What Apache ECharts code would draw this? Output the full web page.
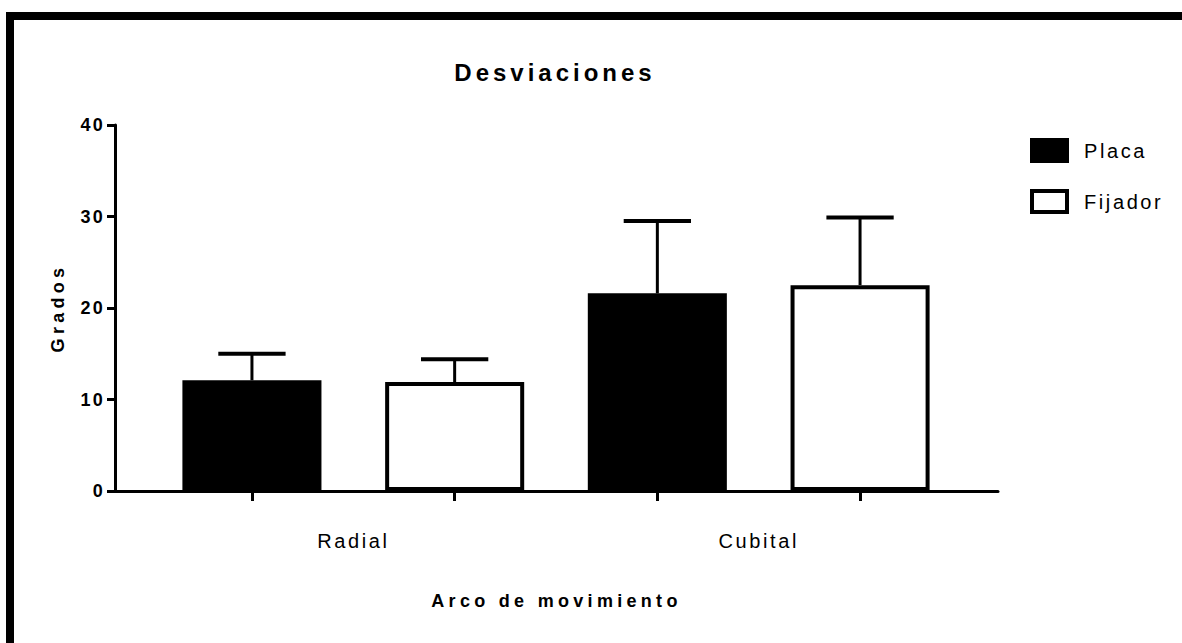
<!DOCTYPE html>
<html>
<head>
<meta charset="utf-8">
<title>Desviaciones</title>
<script src="https://cdn.jsdelivr.net/npm/echarts@6/dist/echarts.min.js"></script>
<style>
  html, body { margin: 0; padding: 0; background: #fff; overflow: hidden; }
  #chart { position: absolute; left: 0; top: 0; width: 1182px; height: 643px; }
  /* spaced-out lettering used by the whole figure */
  #chart svg text { letter-spacing: 3px; }
  /* black frame along the top and left edges of the figure */
  #frame {
    position: absolute; left: 6px; top: 12px; width: 1300px; height: 700px;
    border-top: 8px solid #000; border-left: 8px solid #000;
    pointer-events: none;
  }
</style>
</head>
<body>
<div id="chart"></div>
<div id="frame"></div>
<script>
// Range of motion deviations (degrees): mean and SD per group
const categories = ['Radial', 'Cubital'];
const seriesNames = ['Placa', 'Fijador'];
const placaMean = [12.1, 21.6];
const placaSD = [2.9, 7.9];
const fijadorMean = [11.9, 22.5];
const fijadorSD = [2.5, 7.4];
const yTicks = [0, 10, 20, 30, 40];

const FONT = 'Liberation Sans, Arial, Helvetica, sans-serif';

// one tick per bar: category x group
const barSlots = [];
categories.forEach(c => seriesNames.forEach(s => barSlots.push(c + ' ' + s)));

// error-bar records: [category index, mean, sd, series index]
const errData = [];
categories.forEach((c, i) => {
  errData.push([i, placaMean[i], placaSD[i], 0]);
  errData.push([i, fijadorMean[i], fijadorSD[i], 1]);
});

const chart = echarts.init(document.getElementById('chart'), null, { renderer: 'svg' });

const yMin = yTicks[0], yMax = yTicks[yTicks.length - 1];
const yStep = yTicks[1] - yTicks[0];

// letter spacing by text kind: wider for the title and bold axis names
function spaceLetters() {
  document.querySelectorAll('#chart svg text').forEach(t => {
    const cs = getComputedStyle(t);
    const size = parseFloat(cs.fontSize);
    const bold = cs.fontWeight === 'bold' || parseInt(cs.fontWeight, 10) >= 600;
    const numeric = /^\s*\d+\s*$/.test(t.textContent);
    let ls;
    if (numeric) ls = 2.2;
    else if (size >= 23) ls = 4;
    else if (bold) ls = 4.3;
    else ls = 2.6;
    t.style.letterSpacing = ls + 'px';
  });
}

chart.setOption({
  animation: false,
  backgroundColor: '#fff',
  title: {
    text: 'Desviaciones',
    left: 550,
    textAlign: 'center',
    top: 55,
    textStyle: { fontFamily: FONT, fontWeight: 'bold', fontSize: 24, color: '#000' }
  },
  legend: {
    data: [
      { name: 'Placa' },
      { name: 'Fijador' }
    ],
    orient: 'vertical',
    left: 1030,
    top: 138,
    padding: 0,
    itemWidth: 35,
    itemHeight: 21,
    itemGap: 26,
    icon: 'rect',
    itemStyle: { borderColor: '#000', borderWidth: 4 },
    textStyle: { fontFamily: FONT, fontSize: 20, color: '#000', padding: [0, 0, 0, 12] }
  },
  grid: [
    // frame grid: carries the visible axis lines
    { left: 115, right: 184, top: 125, bottom: 152 },
    // bar grid: where groups are laid out
    { left: 150.6, right: 220.6, top: 125, bottom: 152 }
  ],
  xAxis: [
    {
      gridIndex: 0, type: 'value', min: 0, max: 1, position: 'bottom',
      name: 'Arco de movimiento', nameLocation: 'middle', nameGap: 101,
      nameTextStyle: { fontFamily: FONT, fontWeight: 'bold', fontSize: 18, color: '#000' },
      axisLine: { show: true, lineStyle: { color: '#000', width: 3 } },
      axisTick: { show: false }, axisLabel: { show: false }, splitLine: { show: false }
    },
    {
      gridIndex: 1, type: 'category', data: categories, position: 'bottom',
      axisLine: { show: false }, axisTick: { show: false }, splitLine: { show: false },
      axisLabel: { margin: 40, fontFamily: FONT, fontSize: 20, color: '#000' }
    },
    {
      gridIndex: 1, type: 'category', data: barSlots, position: 'bottom',
      axisLine: { show: false }, splitLine: { show: false },
      axisTick: { show: true, alignWithLabel: true, length: 10, lineStyle: { color: '#000', width: 3 } },
      axisLabel: { show: false }
    }
  ],
  yAxis: [
    {
      gridIndex: 0, type: 'value', min: yMin, max: yMax, interval: yStep,
      name: 'Grados', nameLocation: 'middle', nameGap: 48,
      nameTextStyle: { fontFamily: FONT, fontWeight: 'bold', fontSize: 18, color: '#000' },
      axisLine: { show: true, lineStyle: { color: '#000', width: 3 } },
      axisTick: { show: true, length: 8, lineStyle: { color: '#000', width: 3 } },
      axisLabel: { margin: 10, fontFamily: FONT, fontWeight: 'bold', fontSize: 18, color: '#000' },
      splitLine: { show: false }
    },
    {
      gridIndex: 1, type: 'value', min: yMin, max: yMax, interval: yStep, show: false,
      splitLine: { show: false }
    }
  ],
  series: [
    {
      name: 'Placa', type: 'bar', xAxisIndex: 1, yAxisIndex: 1,
      data: placaMean, barWidth: '34.3%', barGap: '45.8%', z: 3,
      itemStyle: { color: '#000', borderColor: '#000', borderWidth: 0 }
    },
    {
      name: 'Fijador', type: 'bar', xAxisIndex: 1, yAxisIndex: 1,
      data: fijadorMean, barWidth: '34.3%', barGap: '45.8%', z: 3,
      itemStyle: { color: '#fff', borderColor: '#000', borderWidth: 4 }
    },
    {
      name: 'SD', type: 'custom', xAxisIndex: 1, yAxisIndex: 1, z: 2,
      data: errData, silent: true,
      renderItem: function (params, api) {
        const band = api.size([1, 0])[0];
        const center = api.coord([api.value(0), 0])[0];
        const cx = center + (api.value(3) === 0 ? -band / 4 : band / 4);
        const yBase = api.coord([api.value(0), api.value(1)])[1];
        const yTop = api.coord([api.value(0), api.value(1) + api.value(2)])[1];
        const half = band * 0.083;
        return {
          type: 'group',
          children: [
            { type: 'line', shape: { x1: cx, y1: yBase, x2: cx, y2: yTop },
              style: { stroke: '#000', lineWidth: 3 } },
            { type: 'line', shape: { x1: cx - half, y1: yTop, x2: cx + half, y2: yTop },
              style: { stroke: '#000', lineWidth: 4 } }
          ]
        };
      }
    }
  ]
});
spaceLetters();
chart.on('finished', spaceLetters);
</script>
</body>
</html>
